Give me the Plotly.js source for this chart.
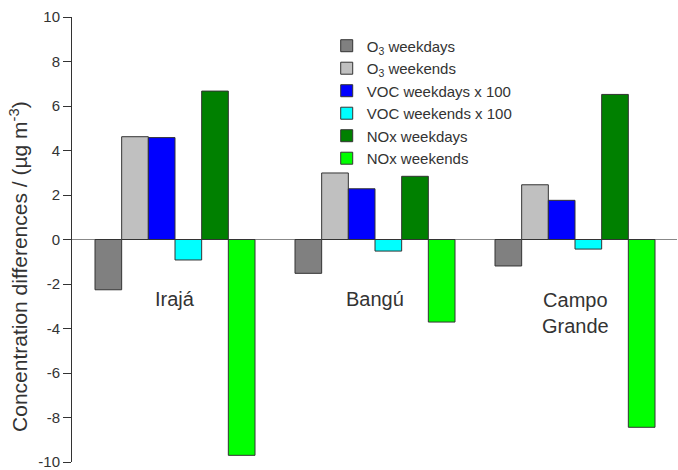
<!DOCTYPE html>
<html>
<head>
<meta charset="utf-8">
<script src="https://cdn.plot.ly/plotly-3.0.1.min.js"></script>
<style>
html,body{margin:0;padding:0;background:#fff;}
#chart{width:678px;height:470px;}
</style>
</head>
<body>
<div id="chart"></div>
<script>
// Data
const categories = ['Irajá', 'Bangú', 'Campo Grande'];
const seriesNames = ['O<sub>3</sub> weekdays', 'O<sub>3</sub> weekends', 'VOC weekdays x 100', 'VOC weekends x 100', 'NOx weekdays', 'NOx weekends'];
const o3Weekdays = [-2.26, -1.52, -1.19];
const o3Weekends = [4.62, 2.99, 2.46];
const vocWeekdays = [4.58, 2.28, 1.76];
const vocWeekends = [-0.92, -0.52, -0.43];
const noxWeekdays = [6.67, 2.84, 6.52];
const noxWeekends = [-9.70, -3.71, -8.44];
const yTicks = [-10, -8, -6, -4, -2, 0, 2, 4, 6, 8, 10];
const yTitle = 'Concentration differences / (µg m<sup>-3</sup>)';

const seriesValues = [o3Weekdays, o3Weekends, vocWeekdays, vocWeekends, noxWeekdays, noxWeekends];
const seriesColors = ['#808080', '#c0c0c0', '#0000ff', '#00ffff', '#008000', '#00ff00'];

const FONT = 'Liberation Sans, Arial, Helvetica, sans-serif';

const traces = seriesValues.map((vals, i) => ({
  type: 'bar',
  name: seriesNames[i],
  x: categories,
  y: vals,
  marker: {color: seriesColors[i], line: {color: '#333333', width: 1}},
  hoverinfo: 'x+y+name'
}));

const annotations = categories.map(c => ({
  x: c,
  y: c.indexOf(' ') >= 0 ? -3.3 : -2.68,
  xref: 'x',
  yref: 'y',
  text: c.replace(' ', '<br>'),
  showarrow: false,
  font: {family: FONT, size: 20, color: '#333333'},
  xanchor: 'center',
  yanchor: 'middle'
}));

// Y axis title (placed as a rotated annotation to match the reference's offset)
annotations.push({
  x: -0.088,
  y: 0.44,
  xref: 'paper',
  yref: 'paper',
  text: yTitle,
  textangle: -90,
  showarrow: false,
  font: {family: FONT, size: 21, color: '#333333'},
  xanchor: 'center',
  yanchor: 'middle'
});

const layout = {
  width: 678,
  height: 470,
  margin: {l: 72, r: 1, t: 17, b: 8},
  paper_bgcolor: '#ffffff',
  plot_bgcolor: '#ffffff',
  barmode: 'group',
  bargap: 0.2,
  bargroupgap: 0,
  font: {family: FONT, color: '#333333'},
  showlegend: true,
  legend: {
    x: 0.421,
    y: 0.972,
    xanchor: 'left',
    yanchor: 'top',
    bgcolor: 'rgba(0,0,0,0)',
    font: {family: FONT, size: 15, color: '#333333'},
    tracegroupgap: 0
  },
  xaxis: {
    type: 'category',
    range: [-0.515, 2.51],
    showticklabels: false,
    ticks: '',
    showline: false,
    showgrid: false,
    zeroline: false
  },
  yaxis: {
    range: [-10, 10],
    tickvals: yTicks,
    ticktext: yTicks.map(String),
    ticks: 'outside',
    ticklen: 8,
    tickwidth: 1,
    tickcolor: '#333333',
    ticklabeloverflow: 'allow',
    showline: true,
    linecolor: '#333333',
    linewidth: 1,
    showgrid: false,
    zeroline: true,
    zerolinecolor: '#888888',
    zerolinewidth: 1,
    tickfont: {family: FONT, size: 15, color: '#333333'}
  },
  annotations: annotations
};

Plotly.newPlot('chart', traces, layout, {displayModeBar: false, staticPlot: true});
</script>
</body>
</html>
